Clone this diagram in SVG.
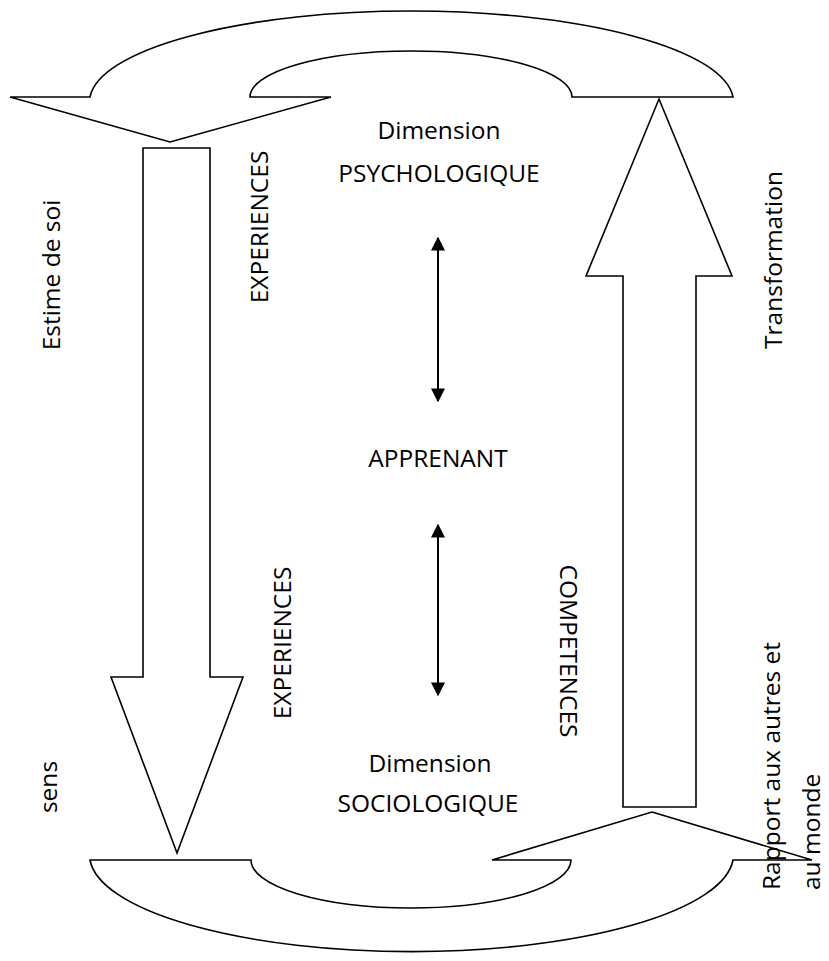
<svg xmlns="http://www.w3.org/2000/svg" width="829" height="961" viewBox="0 0 829 961">
<style>
.sh{fill:#fff;stroke:#000;stroke-width:1.6;stroke-linejoin:miter}
.t{font-family:"Open Sans","Liberation Sans",sans-serif;font-size:24.5px;fill:#000}
.c{text-anchor:middle}
.dl{stroke:#000;stroke-width:2;fill:none}
</style>
<defs>
<marker id="ah" viewBox="0 0 10 10" refX="9" refY="5" markerWidth="7" markerHeight="7" orient="auto-start-reverse" markerUnits="strokeWidth">
<path d="M0,0 L10,5 L0,10 Z" fill="#000"/>
</marker>
</defs>
<rect width="829" height="961" fill="#fff"/>
<g id="top-curved-arrow">
<path class="sh" d="M170,142 L331,97 L250,97 A161,46 0 0 1 572,97 L733,97 A322,91 0 0 0 90,97 L10,97 Z"/>
</g>
<g id="bottom-curved-arrow">
<path class="sh" d="M652,812 L812,860 L733,860 A322,97 0 0 1 90,860 L251,860 A160,48 0 0 0 571,860 L492,860 Z"/>
</g>
<g id="down-arrow">
<path class="sh" d="M143,148 L210,148 L210,677 L243,677 L177,853 L111,677 L143,677 Z"/>
</g>
<g id="up-arrow">
<path class="sh" d="M623,807 L696,807 L696,276 L732,276 L659,99 L586,276 L623,276 Z"/>
</g>
<g id="connectors">
<line class="dl" x1="438" y1="238" x2="438" y2="401" marker-start="url(#ah)" marker-end="url(#ah)"/>
<line class="dl" x1="438" y1="525" x2="438" y2="695" marker-start="url(#ah)" marker-end="url(#ah)"/>
</g>
<g id="psycho">
<text class="t c" x="439" y="139">Dimension</text>
<text class="t c" x="439" y="182">PSYCHOLOGIQUE</text>
</g>
<g id="apprenant">
<text class="t c" x="438" y="467">APPRENANT</text>
</g>
<g id="socio">
<text class="t c" x="430" y="772">Dimension</text>
<text class="t c" x="428" y="812">SOCIOLOGIQUE</text>
</g>
<g id="labels">
<text class="t c" transform="translate(60,275) rotate(-90)">Estime de soi</text>
<text class="t c" transform="translate(268,227) rotate(-90)">EXPERIENCES</text>
<text class="t c" transform="translate(291,643) rotate(-90)">EXPERIENCES</text>
<text class="t c" transform="translate(560,651) rotate(90)">COMPETENCES</text>
<text class="t c" transform="translate(782,260) rotate(-90)">Transformation</text>
<text class="t c" transform="translate(57,787) rotate(-90)">sens</text>
<text class="t" transform="translate(780,890) rotate(-90)">Rapport aux autres et</text>
<text class="t" transform="translate(820,890) rotate(-90)">au monde</text>
</g>
</svg>
